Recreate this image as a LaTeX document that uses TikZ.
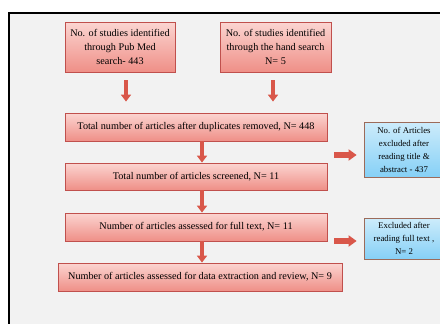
\documentclass[tikz,border=0pt]{standalone}
\usepackage{fontspec}
\setmainfont{Liberation Serif}
\usetikzlibrary{arrows.meta}

\definecolor{pinktop}{HTML}{FBD5D1}
\definecolor{pinkbot}{HTML}{EF8F87}
\definecolor{pinkline}{HTML}{C0504D}
\definecolor{bluetop}{HTML}{CDECFB}
\definecolor{bluebot}{HTML}{86D0F6}
\definecolor{blueline}{HTML}{9C6B5A}
\definecolor{arrowred}{HTML}{D9574A}
\definecolor{panel}{HTML}{F2F2F2}

\tikzset{
  pinkbox/.style={draw=pinkline, line width=0.8pt, top color=pinktop, bottom color=pinkbot,
    inner sep=0pt, align=center, font=\fontsize{10.2}{13.8}\selectfont},
  bluebox/.style={draw=blueline, line width=0.8pt, top color=bluetop, bottom color=bluebot,
    inner sep=0pt, align=center, minimum width=80pt, font=\fontsize{8.8}{13}\selectfont},
  downarrow/.style={draw=arrowred, line width=4pt, -{Triangle[width=10pt,length=7pt]}},
  sidearrow/.style={draw=arrowred, line width=5.5pt, -{Triangle[width=11pt,length=8pt]}}
}

\begin{document}
\begin{tikzpicture}[x=1pt, y=-1pt]
\clip (0,0) rectangle (440,324);
\fill[white] (0,0) rectangle (440,324);
\draw[fill=panel, line width=1.6pt] (9,13) rectangle (460,340);

% sources
\node[pinkbox, minimum width=110pt, minimum height=50pt] (pubmed) at (120,47)
  {No. of studies identified\\through Pub Med\\search- 443};
\node[pinkbox, minimum width=111pt, minimum height=50pt] (hand) at (275.5,47)
  {No. of studies identified\\through the hand search\\N= 5};

% main flow
\node[pinkbox, minimum width=262pt, minimum height=28pt] (total) at (196,127)
  {Total number of articles after duplicates removed, N= 448};
\node[pinkbox, minimum width=262pt, minimum height=27pt] (screened) at (196,176.5)
  {Total number of articles screened, N= 11};
\node[pinkbox, minimum width=262pt, minimum height=28pt] (fulltext) at (196,227)
  {Number of articles assessed for full text, N= 11};
\node[pinkbox, minimum width=284pt, minimum height=28pt] (review) at (200,277)
  {Number of articles assessed for data extraction and review, N= 9};

% exclusions
\node[bluebox, minimum height=55pt] (titleexcl) at (404,149.5)
  {No. of Articles\\excluded after\\reading title \&\\abstract - 437};
\node[bluebox, minimum height=41pt] (textexcl) at (404,238.5)
  {Excluded after\\reading full text ,\\N= 2};

% arrows
\draw[downarrow, shorten <=8pt, shorten >=11pt] ([xshift=6pt]pubmed.south) -- ([xshift=6pt]pubmed.south |- total.north);
\draw[downarrow, shorten <=8pt, shorten >=11pt] ([xshift=-2.5pt]hand.south) -- ([xshift=-2.5pt]hand.south |- total.north);
\draw[downarrow] ([xshift=6pt]total.south) -- ([xshift=6pt]screened.north);
\draw[downarrow] ([xshift=6pt]screened.south) -- ([xshift=6pt]fulltext.north);
\draw[downarrow] ([xshift=6pt]fulltext.south) -- ([xshift=6pt]fulltext.south |- review.north);

\draw[sidearrow, shorten <=7pt, shorten >=7pt] ([yshift=-5.5pt]total.east |- titleexcl.west) -- ([yshift=-5.5pt]titleexcl.west);
\draw[sidearrow, shorten <=7pt, shorten >=7pt] ([yshift=-2.5pt]fulltext.east |- textexcl.west) -- ([yshift=-2.5pt]textexcl.west);
\end{tikzpicture}
\end{document}
